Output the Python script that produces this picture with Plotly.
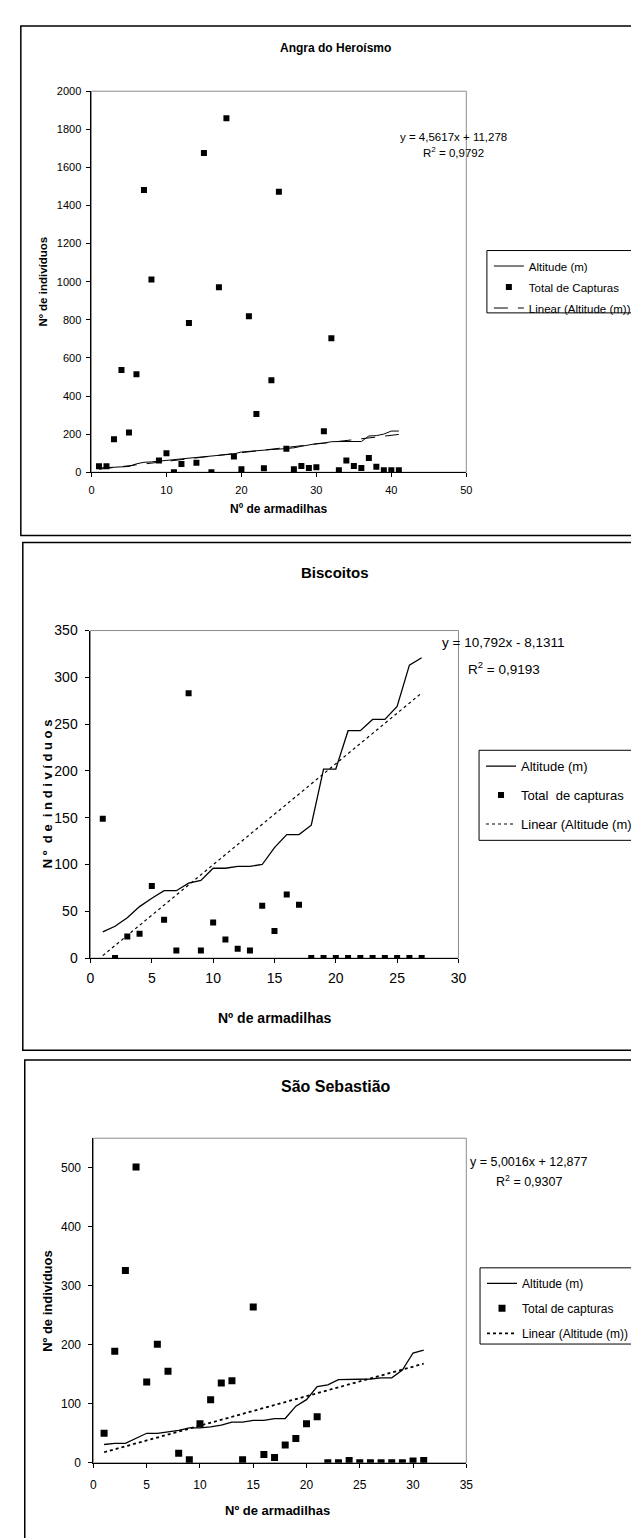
import plotly.graph_objects as go

W, H = 639, 1538


def px(x):
    return x / W


def py(y):
    return 1 - y / H


ARIAL = "Liberation Sans, Arial, sans-serif"

# ---------------- data ----------------
# Angra do Heroísmo
angra_armadilhas = list(range(1, 42))
angra_capturas = [31, 31, 173, 537, 209, 514, 1482, 1011, 61, 99, 0, 43, 783, 50, 1676, 0,
                  971, 1858, 83, 16, 819, 306, 21, 483, 1472, 123, 16, 33, 22, 26, 215, 703,
                  10, 62, 33, 22, 74, 29, 10, 10, 10]
angra_altitude = [22, 24, 26, 28, 30, 44, 52, 54, 57, 62, 66, 70, 74, 76, 80, 86, 88, 92, 96,
                  106, 110, 113, 116, 119, 121, 124, 128, 136, 143, 150, 153, 160, 161, 161,
                  161, 161, 190, 192, 200, 216, 216]
angra_coef = [4.5617, 11.278]
angra_r2 = "0,9792"

# Biscoitos
bisc_armadilhas = list(range(1, 28))
bisc_capturas = [149, 0, 23, 26, 77, 41, 8, 283, 8, 38, 20, 10, 8, 56, 29, 68, 57, 0, 0, 0,
                 0, 0, 0, 0, 0, 0, 0]
bisc_altitude = [28, 34, 43, 55, 64, 72, 72, 80, 83, 96, 96, 98, 98, 100, 118, 132, 132, 142,
                 202, 202, 243, 243, 255, 255, 269, 313, 321]
bisc_coef = [10.792, -8.1311]
bisc_r2 = "0,9193"

# São Sebastião
seb_armadilhas = list(range(1, 32))
seb_capturas = [50, 189, 326, 501, 137, 201, 155, 16, 5, 66, 107, 135, 139, 5, 264, 14, 9, 30,
                41, 66, 78, 0, 0, 4, 0, 0, 0, 0, 0, 3, 4]
seb_altitude = [31, 33, 33, 42, 50, 50, 52, 55, 59, 59, 61, 64, 69, 69, 72, 72, 75, 75, 96, 107,
                129, 132, 141, 141, 141, 142, 144, 144, 157, 186, 191]
seb_coef = [5.0016, 12.877]
seb_r2 = "0,9307"


def trend(xs, coef):
    return [coef[0] * x + coef[1] for x in xs]


def num(v):
    return str(v).replace(".", ",")


fig = go.Figure()

panels = [
    dict(ax="", xs=angra_armadilhas, cap=angra_capturas, alt=angra_altitude, coef=angra_coef,
         legend="legend", cap_name="Total de Capturas", dash="14px,10px", msize=6, lw=1,
         tw=1),
    dict(ax="2", xs=bisc_armadilhas, cap=bisc_capturas, alt=bisc_altitude, coef=bisc_coef,
         legend="legend2", cap_name="Total\u00a0 de capturas", dash="dot", msize=6, lw=1.3,
         tw=1.2),
    dict(ax="3", xs=seb_armadilhas, cap=seb_capturas, alt=seb_altitude, coef=seb_coef,
         legend="legend3", cap_name="Total de capturas", dash="3px,3px", msize=7, lw=1.3,
         tw=1.8),
]

for i, p in enumerate(panels):
    xa = "x" + p["ax"]
    ya = "y" + p["ax"]
    fig.add_trace(go.Scatter(x=p["xs"], y=p["alt"], mode="lines", name="Altitude (m)",
                             line=dict(color="black", width=p["lw"]), xaxis=xa, yaxis=ya,
                             legend=p["legend"], legendgroup=f"g{i}a"))
    fig.add_trace(go.Scatter(x=p["xs"], y=p["cap"], mode="markers", name=p["cap_name"],
                             marker=dict(symbol="square", size=p["msize"], color="black",
                                         line=dict(width=0)),
                             xaxis=xa, yaxis=ya, legend=p["legend"], legendgroup=f"g{i}b"))
    fig.add_trace(go.Scatter(x=p["xs"], y=trend(p["xs"], p["coef"]), mode="lines",
                             name="Linear (Altitude (m))",
                             line=dict(color="black", width=p["tw"], dash=p["dash"]),
                             xaxis=xa, yaxis=ya, legend=p["legend"], legendgroup=f"g{i}c"))


def axis_common(font):
    return dict(showline=True, linecolor="black", linewidth=1, ticks="outside", ticklen=4,
                tickcolor="black", tickwidth=1, showgrid=False, zeroline=False,
                tickfont=font, fixedrange=True)


f1 = dict(family=ARIAL, size=11, color="black")
f2 = dict(family=ARIAL, size=14, color="black")
f3 = dict(family=ARIAL, size=12, color="black")

layout = dict(
    width=W, height=H, margin=dict(l=0, r=0, t=0, b=0),
    paper_bgcolor="white", plot_bgcolor="white", showlegend=True,
    xaxis=dict(domain=[px(81), px(463)], range=[0, 50], dtick=10, tick0=0, anchor="y",
               ticklabelstandoff=4, **axis_common(f1)),
    yaxis=dict(domain=[py(461), py(76)], range=[0, 2000], dtick=200, tick0=0, anchor="x",
               ticklabelstandoff=3, **axis_common(f1)),
    xaxis2=dict(domain=[px(80), px(455)], range=[0, 30], dtick=5, tick0=0, anchor="y2",
                ticklabelstandoff=3, **axis_common(f2)),
    yaxis2=dict(domain=[py(952), py(621)], range=[0, 350], dtick=50, tick0=0, anchor="x2",
                ticklabelstandoff=5, **axis_common(f2)),
    xaxis3=dict(domain=[px(83), px(463)], range=[0, 35], dtick=5, tick0=0, anchor="y3",
                ticklabelstandoff=7, **axis_common(f3)),
    yaxis3=dict(domain=[py(1462), py(1134)], range=[0, 550], dtick=100, tick0=0, anchor="x3",
                ticklabelstandoff=5, **axis_common(f3)),
    legend=dict(x=px(486), y=py(238), xanchor="left", yanchor="top", borderwidth=0,
                bgcolor="rgba(0,0,0,0)", tracegroupgap=2,
                font=dict(family=ARIAL, size=11.5, color="black")),
    legend2=dict(x=px(478), y=py(743), xanchor="left", yanchor="top", borderwidth=0,
                 bgcolor="rgba(0,0,0,0)", tracegroupgap=9,
                 font=dict(family=ARIAL, size=13, color="black")),
    legend3=dict(x=px(479), y=py(1266), xanchor="left", yanchor="top", borderwidth=0,
                 bgcolor="rgba(0,0,0,0)", tracegroupgap=6,
                 font=dict(family=ARIAL, size=12, color="black")),
)
fig.update_layout(**layout)

shapes = []
# outer chart frames
for (x0, y0, y1) in [(9, 10, 525), (11, 532, 1045), (13, 1055, 1545)]:
    shapes.append(dict(type="rect", xref="paper", yref="paper", x0=px(x0), x1=px(700),
                       y0=py(y1), y1=py(y0), line=dict(color="black", width=1.5),
                       layer="below"))
# legend boxes (run past the right edge, as in the original)
for (x0, y0, y1) in [(484, 237, 300), (476, 742, 833), (477, 1265, 1342)]:
    shapes.append(dict(type="rect", xref="paper", yref="paper", x0=px(x0), x1=px(700),
                       y0=py(y1), y1=py(y0), line=dict(color="black", width=1),
                       fillcolor="white", layer="below"))
# plot area borders (grey)
for ax in ["", "2", "3"]:
    shapes.append(dict(type="rect", xref=f"x{ax} domain", yref=f"y{ax} domain", x0=0, x1=1,
                       y0=0, y1=1, line=dict(color="#8c8c8c", width=1), layer="below"))
fig.update_layout(shapes=shapes)


def ann(text, x, y, size, angle=0, xanchor="center"):
    return dict(text=text, x=px(x), y=py(y), xref="paper", yref="paper", showarrow=False,
                font=dict(family=ARIAL, size=size, color="black"), textangle=angle,
                xanchor=xanchor, yanchor="middle")


annotations = [
    ann("<b>Angra do Heroísmo</b>", 330, 32, 12),
    ann("<b>Nº de indivíduos</b>", 32, 268, 11.5, -90),
    ann("<b>Nº de armadilhas</b>", 272, 498, 12),
    ann(f"y = {num(angra_coef[0])}x + {num(angra_coef[1])}", 450, 122, 11.5),
    ann(f"R<sup>2</sup> = {angra_r2}", 450, 137, 11.5),

    ann("<b>Biscoitos</b>", 329, 562, 15),
    ann("<b>N º  d e  i n d i v í d u o s</b>", 37, 786, 13, -90),
    ann("<b>Nº de armadilhas</b>", 268, 1013, 14),
    ann(f"y = {num(bisc_coef[0])}x - {num(-bisc_coef[1])}", 500, 633, 13.5),
    ann(f"R<sup>2</sup> = {bisc_r2}", 501, 659, 13.5),

    ann("<b>São Sebastião</b>", 330, 1082, 16),
    ann("<b>Nº de indivíduos</b>", 36, 1298, 13, -90),
    ann("<b>Nº de armadilhas</b>", 271, 1510, 13),
    ann(f"y = {num(seb_coef[0])}x + {num(seb_coef[1])}", 527, 1158, 12.5),
    ann(f"R<sup>2</sup> = {seb_r2}", 527, 1177, 12.5),
]
fig.update_layout(annotations=annotations)

fig.write_html("out.html")
